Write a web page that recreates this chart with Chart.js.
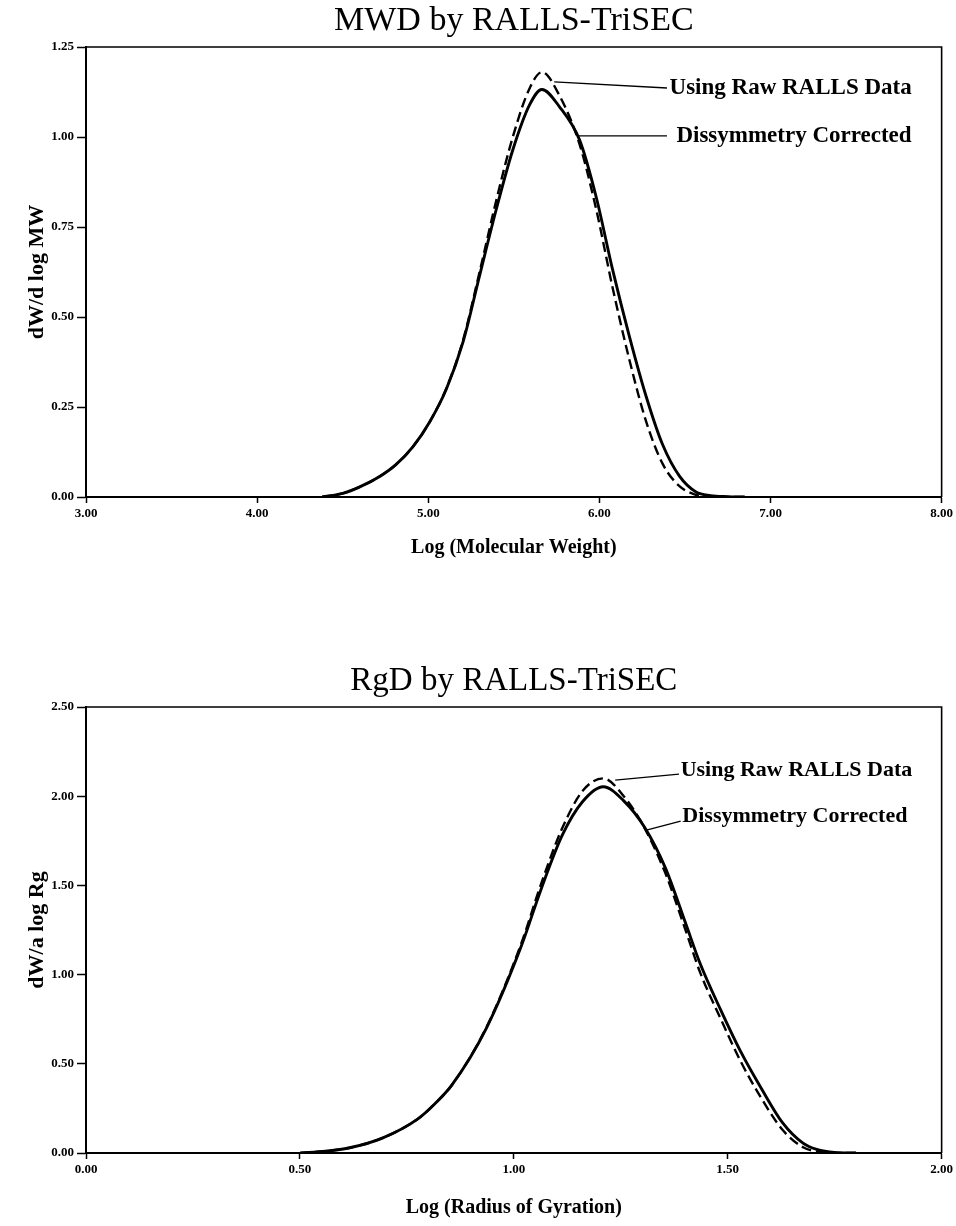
<!DOCTYPE html>
<html><head><meta charset="utf-8">
<script src="https://cdn.jsdelivr.net/npm/chart.js@4"></script>
<style>
html,body{margin:0;padding:0;background:#fff;}
#wrap{position:relative;width:956px;height:1226px;}
canvas{position:absolute;left:0;}
</style></head><body>
<div id="wrap">
<canvas id="c1" width="956" height="580" style="top:0px"></canvas>
<canvas id="c2" width="956" height="596" style="top:630px"></canvas>
</div>
<script>
// ---- Chart 1: MWD ----
const mwLogM      = [4.38,4.50,4.60,4.716,4.811,4.911,5.01,5.106,5.203,5.30,5.398,5.494,5.592,5.664,5.767,5.884,5.981,6.078,6.176,6.273,6.370,6.468,6.565,6.65,6.75,6.85];
const mwCorrected = [0,0.01,0.028,0.057,0.09,0.14,0.21,0.30,0.43,0.615,0.80,0.964,1.089,1.132,1.084,0.992,0.834,0.63,0.445,0.28,0.145,0.058,0.014,0.004,0.001,0];
const mwRaw       = [0,0.01,0.028,0.057,0.09,0.14,0.21,0.302,0.435,0.625,0.825,1.00,1.135,1.18,1.115,0.98,0.80,0.58,0.38,0.21,0.092,0.03,0.006,0,0,0];
const mwXTicks = [3,4,5,6,7,8];
const mwYTicks = [0,0.25,0.5,0.75,1.0,1.25];

// ---- Chart 2: RgD ----
const rgLogR      = [0.501,0.56,0.614,0.694,0.775,0.815,0.855,0.936,1.016,1.064,1.113,1.161,1.209,1.257,1.306,1.354,1.402,1.435,1.483,1.531,1.579,1.628,1.676,1.708,1.75,1.80];
const rgCorrected = [0,0.01,0.028,0.085,0.19,0.275,0.38,0.70,1.15,1.48,1.78,1.97,2.053,1.974,1.825,1.60,1.285,1.065,0.805,0.565,0.36,0.17,0.055,0.02,0.003,0];
const rgRaw       = [0,0.01,0.028,0.085,0.19,0.275,0.38,0.705,1.165,1.51,1.82,2.03,2.10,2.00,1.82,1.57,1.245,1.015,0.755,0.51,0.305,0.13,0.032,0.008,0,0];
const rgXTicks = [0,0.5,1.0,1.5,2.0];
const rgYTicks = [0,0.5,1.0,1.5,2.0,2.5];

const SERIF = "'Liberation Serif','Times New Roman',serif";

function pts(xs, ys){ return xs.map((x,i)=>({x:x,y:ys[i]})); }

function makeChart(canvas, o){
  const leaderPlugin = {
    id:'leaders',
    afterDatasetsDraw(chart){
      const {ctx, chartArea:a, scales:{x,y}} = chart;
      ctx.save();
      ctx.strokeStyle='#000'; ctx.lineWidth=1.6;
      ctx.beginPath(); ctx.moveTo(a.left,a.top); ctx.lineTo(a.right,a.top); ctx.lineTo(a.right,a.bottom); ctx.stroke();
      ctx.lineWidth=1.4;
      o.notes.forEach(n=>{
        ctx.beginPath();
        ctx.moveTo(x.getPixelForValue(n.from[0]), y.getPixelForValue(n.from[1]));
        ctx.lineTo(x.getPixelForValue(n.to[0]), y.getPixelForValue(n.to[1]));
        ctx.stroke();
        ctx.fillStyle='#000';
        ctx.font="bold "+o.noteSize+"px "+SERIF;
        ctx.textAlign='left'; ctx.textBaseline='middle';
        ctx.fillText(n.text, x.getPixelForValue(n.at[0]), y.getPixelForValue(n.at[1]));
      });
      ctx.restore();
    }
  };
  return new Chart(canvas, {
    type:'line',
    data:{datasets:[
      {label:'Using Raw RALLS Data', data:pts(o.xs,o.raw), borderColor:'#000', borderWidth:2.4, borderDash:[10,5], pointRadius:0, cubicInterpolationMode:'monotone', fill:false},
      {label:'Dissymmetry Corrected', data:pts(o.xs,o.cor), borderColor:'#000', borderWidth:2.9, pointRadius:0, cubicInterpolationMode:'monotone', fill:false}
    ]},
    options:{
      responsive:false, animation:false, devicePixelRatio:1,
      layout:{padding:{left:0,right:13,top:0,bottom:0}},
      plugins:{
        legend:{display:false}, tooltip:{enabled:false},
        title:{display:true, text:o.title, fullSize:false, color:'#000',
          font:{family:SERIF, size:o.titleSize, weight:'normal', lineHeight:1.2},
          padding:{top:o.titleTop, bottom:o.titleBottom}}
      },
      scales:{
        x:{type:'linear', min:o.xmin, max:o.xmax,
          afterBuildTicks:s=>{s.ticks=o.xticks.map(v=>({value:v}));},
          afterFit:s=>{s.height=o.xh;},
          ticks:{callback:v=>Number(v).toFixed(2), color:'#000', font:{family:SERIF,size:13,weight:'bold'}, padding:3, maxRotation:0, autoSkip:false},
          grid:{drawOnChartArea:false, drawTicks:true, tickLength:6, tickColor:'#000', tickWidth:1.5},
          border:{display:true, color:'#000', width:2},
          title:{display:true, text:o.xtitle, color:'#000', font:{family:SERIF,size:20,weight:'bold'}, padding:{top:0,bottom:o.xtitlePad}}
        },
        y:{type:'linear', min:o.ymin, max:o.ymax,
          afterBuildTicks:s=>{s.ticks=o.yticks.map(v=>({value:v}));},
          afterFit:s=>{s.width=86;},
          ticks:{callback:v=>Number(v).toFixed(2), color:'#000', font:{family:SERIF,size:13,weight:'bold'}, padding:3},
          grid:{drawOnChartArea:false, drawTicks:true, tickLength:9, tickColor:'#000', tickWidth:1.5},
          border:{display:true, color:'#000', width:2},
          title:{display:true, text:o.ytitle, color:'#000', font:{family:SERIF,size:22,weight:'bold'}, padding:{top:24,bottom:0}}
        }
      }
    },
    plugins:[leaderPlugin]
  });
}

makeChart(document.getElementById('c1'), {
  xs:mwLogM, cor:mwCorrected, raw:mwRaw, xticks:mwXTicks, yticks:mwYTicks,
  xmin:3, xmax:8, ymin:0, ymax:1.25,
  title:'MWD by RALLS-TriSEC', titleSize:34, titleTop:1, titleBottom:5.2,
  xtitle:'Log (Molecular Weight)', ytitle:'dW/d log MW', xh:83, xtitlePad:20,
  noteSize:23,
  notes:[
    {from:[5.736,1.153], to:[6.395,1.136], at:[6.41,1.136], text:'Using Raw RALLS Data'},
    {from:[5.87,1.003], to:[6.395,1.003], at:[6.45,1.003], text:'Dissymmetry Corrected'}
  ]
});

makeChart(document.getElementById('c2'), {
  xs:rgLogR, cor:rgCorrected, raw:rgRaw, xticks:rgXTicks, yticks:rgYTicks,
  xmin:0, xmax:2, ymin:0, ymax:2.5,
  title:'RgD by RALLS-TriSEC', titleSize:33, titleTop:32, titleBottom:5.4,
  xtitle:'Log (Radius of Gyration)', ytitle:'dW/a log Rg', xh:73, xtitlePad:6,
  noteSize:22,
  notes:[
    {from:[1.237,2.09], to:[1.386,2.124], at:[1.39,2.146], text:'Using Raw RALLS Data'},
    {from:[1.31,1.81], to:[1.39,1.86], at:[1.394,1.888], text:'Dissymmetry Corrected'}
  ]
});
</script>
</body></html>
